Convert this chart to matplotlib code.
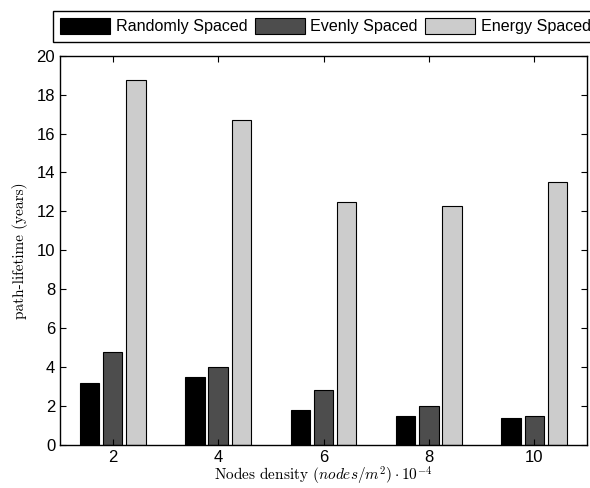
import matplotlib
matplotlib.use("Agg")
import matplotlib.pyplot as plt
import numpy as np

densities = [2, 4, 6, 8, 10]
randomly = [3.2, 3.5, 1.8, 1.5, 1.4]
evenly = [4.8, 4.0, 2.8, 2.0, 1.5]
energy = [18.75, 16.72, 12.5, 12.3, 13.5]
series_names = ["Randomly Spaced", "Evenly Spaced", "Energy Spaced"]
colors = ["#000000", "#4d4d4d", "#cccccc"]

plt.rcParams['font.family'] = ['Liberation Sans', 'DejaVu Sans']
plt.rcParams['mathtext.fontset'] = 'cm'

fig = plt.figure(figsize=(5.9, 4.88), dpi=100)
ax = fig.add_axes([60/590, 1-445/488, (587-60)/590, (445-55.7)/488])

x = np.array(densities, dtype=float)
w = 0.37
off = 0.44
handles = []
for i, (vals, name, c) in enumerate(zip([randomly, evenly, energy], series_names, colors)):
    b = ax.bar(x + (i-1)*off, vals, width=w, color=c, edgecolor='black', linewidth=0.8, label=name)
    handles.append(b)

ax.set_xlim(1, 11)
ax.set_ylim(0, 20)
ax.set_xticks(densities)
ax.set_yticks(np.arange(0, 21, 2))
ax.tick_params(direction='in', top=True, right=True, labelsize=12, length=4, width=0.8)
for s in ax.spines.values():
    s.set_linewidth(1.0)

ax.set_ylabel("path-lifetime (years)", fontfamily='cmr10', fontsize=11, labelpad=6)
ax.set_xlabel(r"Nodes density $(nodes/m^2)\cdot 10^{-4}$", fontfamily='cmr10', fontsize=11, labelpad=0)

leg = fig.legend(handles=handles, labels=series_names, loc='upper left',
                 bbox_to_anchor=(53/590, 1-11/488), ncol=3, fontsize=11.6,
                 handlelength=3.1, handleheight=1.1, handletextpad=0.35,
                 columnspacing=0.45, borderpad=0.45, borderaxespad=0,
                 fancybox=False, framealpha=1, edgecolor='black')
leg.get_frame().set_linewidth(1.0)

fig.savefig("out.png", dpi=100)
